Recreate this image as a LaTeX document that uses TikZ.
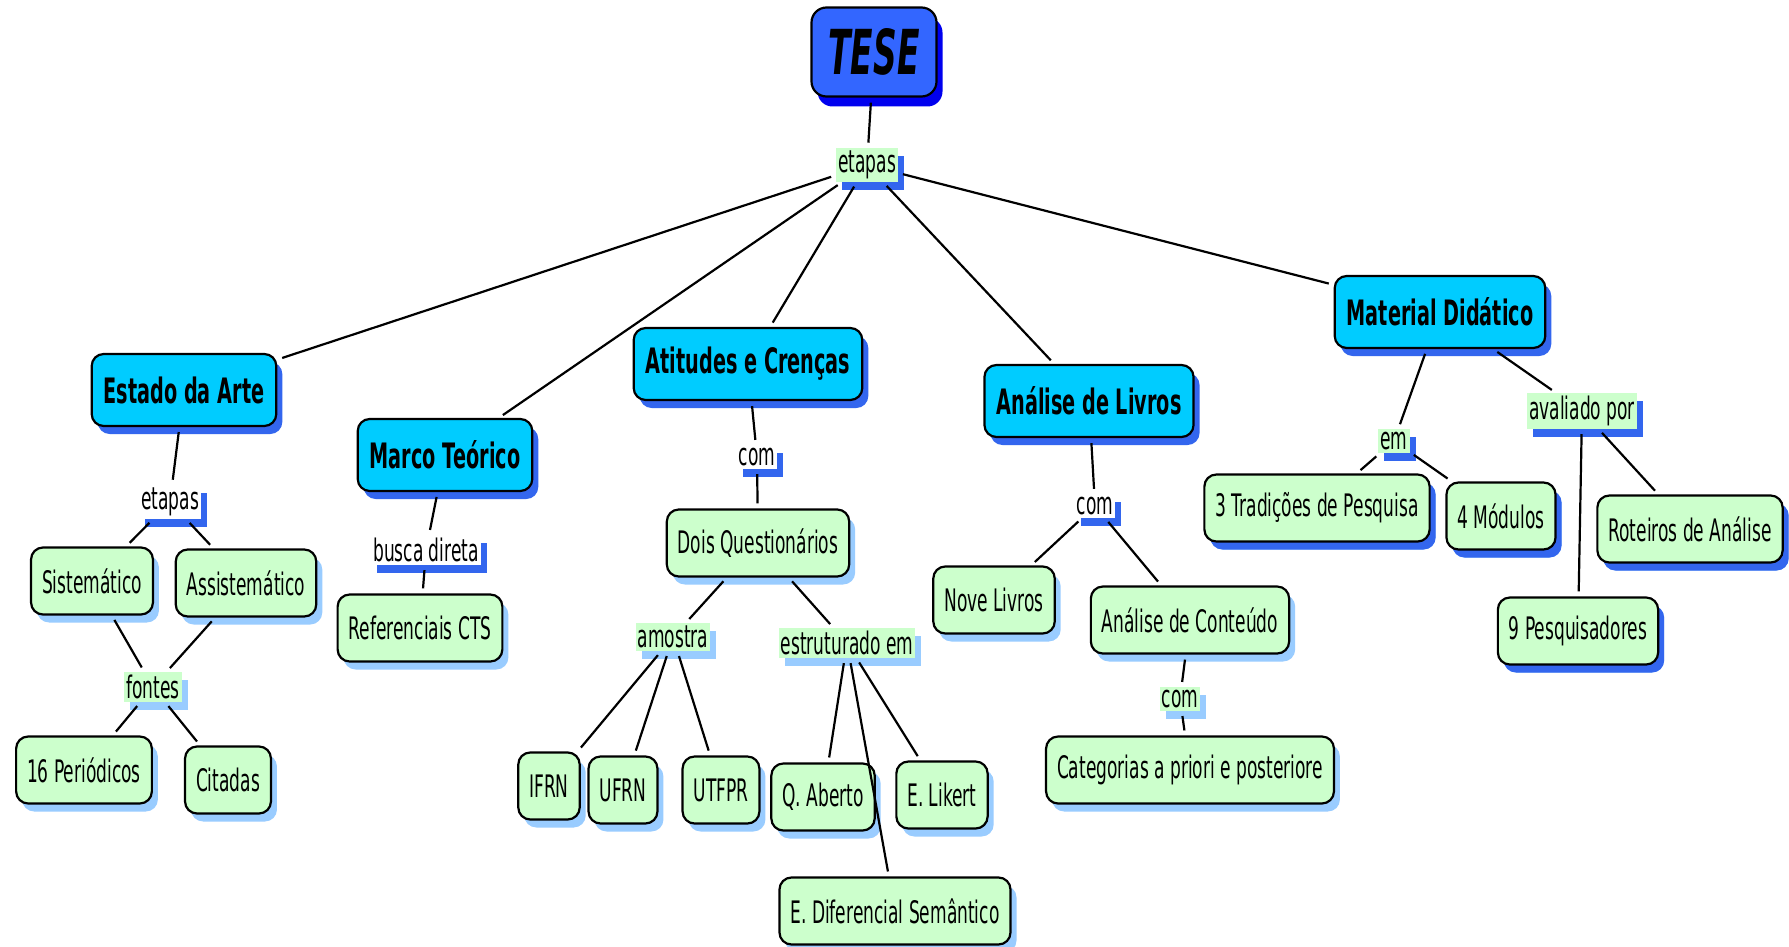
\documentclass[tikz,border=0pt]{standalone}
\usepackage{fontspec}
\setmainfont[FakeStretch=0.55]{DejaVu Sans}
\newfontfamily\tesefont[FakeStretch=0.53]{DejaVu Sans}
\usetikzlibrary{shadows}
\definecolor{tesefill}{HTML}{3366FF}
\definecolor{teseshadow}{HTML}{0000EE}
\definecolor{cyanc}{HTML}{00CCFF}
\definecolor{shblue}{HTML}{3366EE}
\definecolor{greenc}{HTML}{CCFFCC}
\definecolor{shlight}{HTML}{99CCFF}
\tikzset{
  box/.style={draw=black, line width=2.2pt, rounded corners=12pt, align=center},
  tese/.style={box, fill=tesefill, rounded corners=15pt, minimum width=125pt, minimum height=89pt,
    font=\tesefont\bfseries\itshape\fontsize{62}{64}\selectfont,
    general shadow={fill=teseshadow, shadow xshift=6pt, shadow yshift=-10pt}},
  concept/.style={box, fill=cyanc, minimum height=72pt, inner xsep=12pt,
    font=\bfseries\fontsize{35}{38}\selectfont,
    general shadow={fill=shblue, shadow xshift=6pt, shadow yshift=-8pt}},
  leaf/.style={box, fill=greenc, minimum height=67pt, inner xsep=11pt,
    font=\fontsize{31}{33}\selectfont,
    general shadow={fill=shlight, shadow xshift=6pt, shadow yshift=-8pt}},
  leafb/.style={leaf, general shadow={fill=shblue, shadow xshift=6pt, shadow yshift=-8pt}},
  lp/.style={inner xsep=2pt, inner ysep=3pt, font=\fontsize{31}{33}\selectfont},
  lpg/.style={lp, fill=greenc, general shadow={fill=shblue, shadow xshift=6pt, shadow yshift=-8pt}},
  lpgl/.style={lp, fill=greenc, general shadow={fill=shlight, shadow xshift=6pt, shadow yshift=-8pt}},
  lpw/.style={lp, fill=white, general shadow={fill=shblue, shadow xshift=6pt, shadow yshift=-8pt}},
  link/.style={line width=2.2pt, black, shorten <=5pt, shorten >=5pt},
}
\begin{document}
\begin{tikzpicture}[x=1pt,y=-1pt]
\useasboundingbox[fill=white] (0,0) rectangle (1789,947);
% top
\node[tese] (tese) at (874,52) {TESE};
\node[lpg] (et0) at (867,165) {etapas};
% concepts
\node[concept] (estado) at (184,390) {Estado da Arte};
\node[concept] (marco) at (445,455) {Marco Teórico};
\node[concept] (atit) at (748,364) {Atitudes e Crenças};
\node[concept] (livros) at (1089,401) {Análise de Livros};
\node[concept] (mat) at (1440,312) {Material Didático};
% Estado da Arte branch
\node[lpw] (et1) at (170,502) {etapas};
\node[leaf] (sist) at (92,581) {Sistemático};
\node[leaf] (assist) at (246,583) {Assistemático};
\node[lpgl] (fontes) at (153,687) {fontes};
\node[leaf] (per) at (84,770) {16 Periódicos};
\node[leaf] (cit) at (228,780) {Citadas};
% Marco Teorico branch
\node[lpw] (busca) at (426,550) {busca direta};
\node[leaf] (refcts) at (420,628) {Referenciais CTS};
% Atitudes branch
\node[lpw] (com1) at (757,457) {com};
\node[leaf] (dois) at (758,543) {Dois Questionários};
\node[lpgl] (amostra) at (673,637) {amostra};
\node[lpgl] (estrut) at (847,643) {estruturado em};
\node[leaf] (ifrn) at (549,786) {IFRN};
\node[leaf] (ufrn) at (623,790) {UFRN};
\node[leaf] (utfpr) at (721,790) {UTFPR};
\node[leaf] (qab) at (823,797) {Q. Aberto};
\node[leaf] (likert) at (942,795) {E. Likert};
\node[leaf] (edif) at (895,911) {E. Diferencial Semântico};
% Analise de Livros branch
\node[lpw] (com2) at (1095,506) {com};
\node[leaf] (nove) at (994,600) {Nove Livros};
\node[leaf] (acont) at (1190,620) {Análise de Conteúdo};
\node[lpgl] (com3) at (1180,699) {com};
\node[leaf] (categ) at (1190,770) {Categorias a priori e posteriore};
% Material branch
\node[lpg] (em) at (1394,441) {em};
\node[lpg] (aval) at (1582,411) {avaliado por};
\node[leafb] (trad) at (1317,508) {3 Tradições de Pesquisa};
\node[leafb] (mod) at (1501,516) {4 Módulos};
\node[leafb] (rot) at (1690,529) {Roteiros de Análise};
\node[leafb] (pesq) at (1578,631) {9 Pesquisadores};
% connectors
\draw[link] (tese) -- (et0);
\draw[link] (et0) -- (estado);
\draw[link] (et0) -- (marco);
\draw[link] (et0) -- (atit);
\draw[link] (et0) -- (livros);
\draw[link] (et0) -- (mat);
\draw[link] (estado) -- (et1);
\draw[link] (et1) -- (sist);
\draw[link] (et1) -- (assist);
\draw[link] (sist) -- (fontes);
\draw[link] (assist) -- (fontes);
\draw[link] (fontes) -- (per);
\draw[link] (fontes) -- (cit);
\draw[link] (marco) -- (busca);
\draw[link] (busca) -- (refcts);
\draw[link] (atit) -- (com1);
\draw[link] (com1) -- (dois);
\draw[link] (dois) -- (amostra);
\draw[link] (dois) -- (estrut);
\draw[link] (amostra) -- (ifrn);
\draw[link] (amostra) -- (ufrn);
\draw[link] (amostra) -- (utfpr);
\draw[link] (estrut) -- (qab);
\draw[link] (estrut) -- (edif);
\draw[link] (estrut) -- (likert);
\draw[link] (livros) -- (com2);
\draw[link] (com2) -- (nove);
\draw[link] (com2) -- (acont);
\draw[link] (acont) -- (com3);
\draw[link] (com3) -- (categ);
\draw[link] (mat) -- (em);
\draw[link] (mat) -- (aval);
\draw[link] (em) -- (trad);
\draw[link] (em) -- (mod);
\draw[link] (aval) -- (pesq);
\draw[link] (aval) -- (rot);
\end{tikzpicture}
\end{document}
